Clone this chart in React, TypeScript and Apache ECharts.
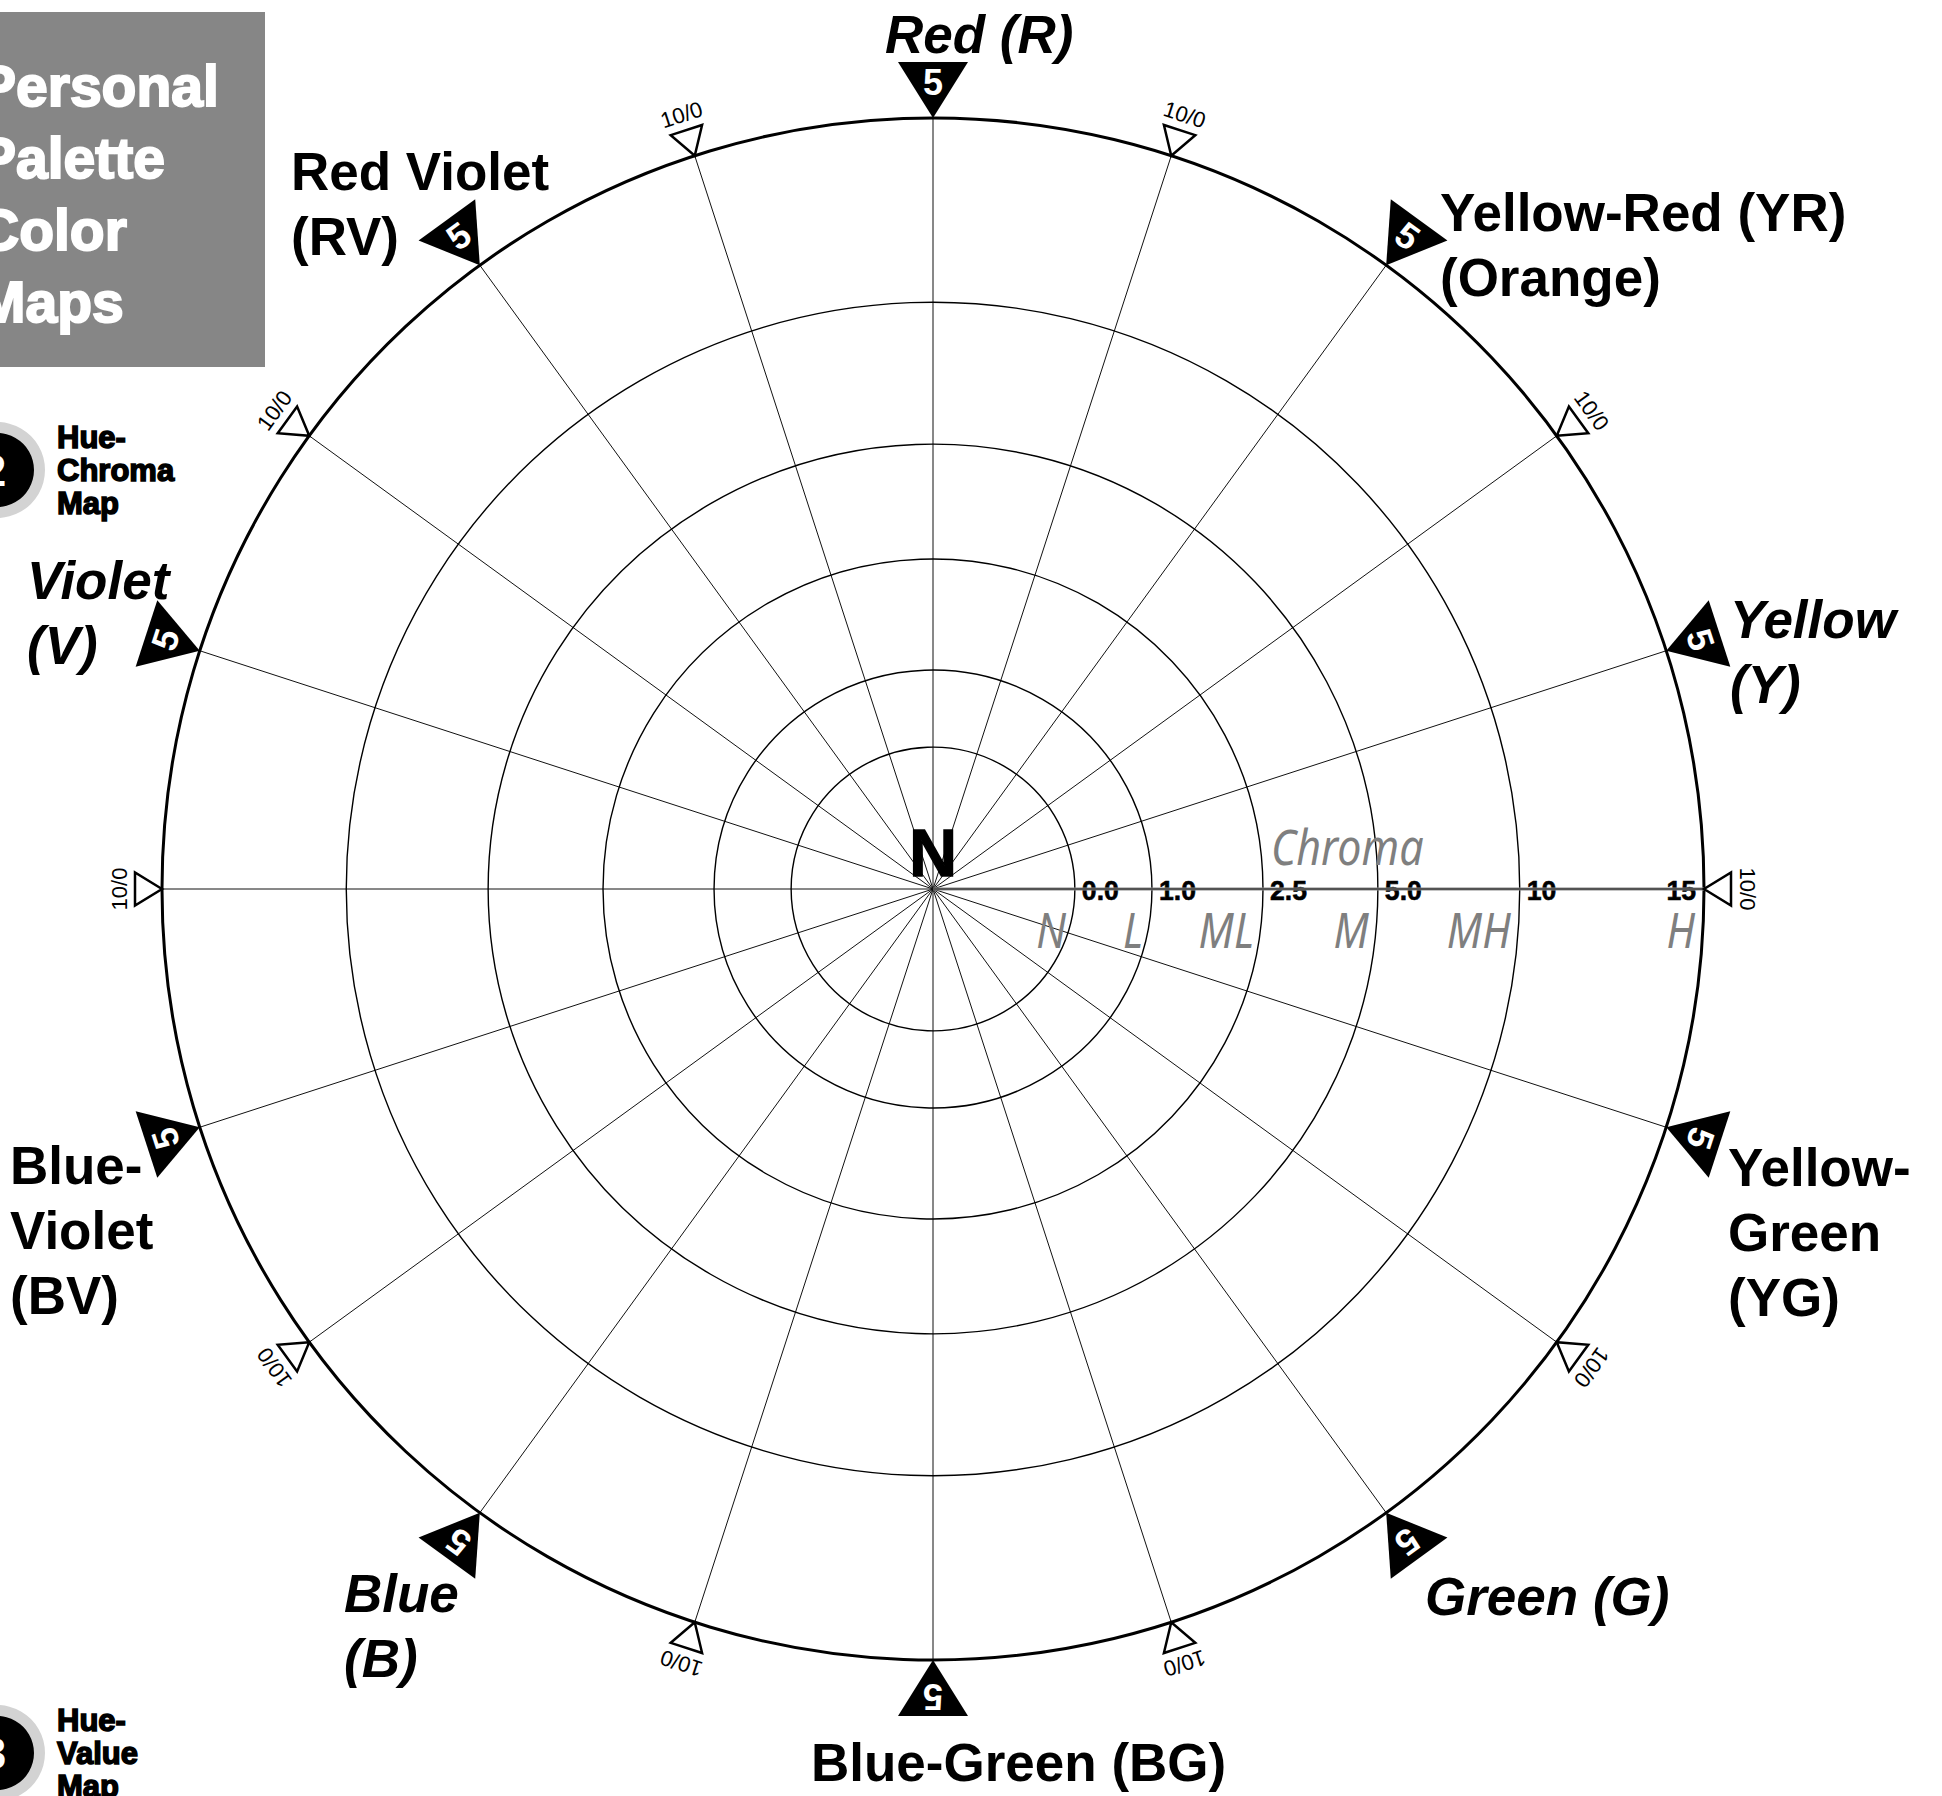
import React, { useEffect, useRef } from 'react';
import * as echarts from 'echarts';

// Hue steps around the Munsell circle, clockwise from the top (Red)
const hueSteps = ['5R', '10R/0YR', '5YR', '10YR/0Y', '5Y', '10Y/0GY', '5GY', '10GY/0G', '5G', '10G/0BG',
  '5BG', '10BG/0B', '5B', '10B/0PB', '5PB', '10PB/0P', '5P', '10P/0RP', '5RP', '10RP/0R'];
const stepMarks = ['5', '10/0', '5', '10/0', '5', '10/0', '5', '10/0', '5', '10/0',
  '5', '10/0', '5', '10/0', '5', '10/0', '5', '10/0', '5', '10/0'];

// Hue names (one per principal / intermediate hue, same order)
const hueNames = ['Red (R)', 'Yellow-Red (YR)\n(Orange)', 'Yellow\n(Y)', 'Yellow-\nGreen\n(YG)', 'Green (G)',
  'Blue-Green (BG)', 'Blue\n(B)', 'Blue-\nViolet\n(BV)', 'Violet\n(V)', 'Red Violet\n(RV)'];
const huePrincipal = [true, false, true, false, true, false, true, false, true, false];

// Chroma rings (radial scale, fraction of the outer circle) and their labels
const ringScale = [0.184, 0.284, 0.428, 0.577, 0.761, 1.0];
const chromaTicks = ['0.0', '1.0', '2.5', '5.0', '10', '15'];
const chromaLevels = ['N', 'L', 'ML', 'M', 'MH', 'H'];

// layout of hue-name labels: [left, middle of first line]
const hueLabelLayout: [number, number][] = [
  [885, 34], [1440, 212], [1730, 619], [1728, 1167], [1425, 1596],
  [811, 1762], [344, 1593], [10, 1165], [27, 580], [291, 171],
];

const SANS = '"Liberation Sans", Arial, sans-serif';
const GRAY_SANS = '"Noto Sans", sans-serif';

export default function App() {
  const ref = useRef<HTMLDivElement>(null);
  useEffect(() => {
    if (!ref.current) return;
    const chart = echarts.init(ref.current, null, { renderer: 'svg' });
    const step = 360 / hueSteps.length;
    const chromaAngle = 90; // chroma scale drawn along the right horizontal spoke

    const graphic: any[] = [
      { type: 'rect', shape: { x: 0, y: 12, width: 265, height: 355 }, style: { fill: '#868686' }, z: 0 },
      {
        type: 'text', x: -22, y: 50,
        style: {
          text: 'Personal\nPalette\nColor\nMaps', fill: '#fff', stroke: '#fff', lineWidth: 2,
          font: `bold 57px ${SANS}`, lineHeight: 72, align: 'left', verticalAlign: 'top',
          textAlign: 'left', textVerticalAlign: 'top',
        },
      },
    ];
    const icons: [string, string, number][] = [['2', 'Hue-\nChroma\nMap', 470], ['3', 'Hue-\nValue\nMap', 1753]];
    icons.forEach(([num, txt, cy]) => {
      graphic.push({ type: 'circle', shape: { cx: -3, cy, r: 48 }, style: { fill: '#d3d3d3' } });
      graphic.push({ type: 'circle', shape: { cx: -3, cy, r: 37 }, style: { fill: '#000' } });
      graphic.push({
        type: 'text', x: -6, y: cy,
        style: { text: num, fill: '#fff', font: `bold 44px ${SANS}`, align: 'center', verticalAlign: 'middle', textAlign: 'center', textVerticalAlign: 'middle' },
      });
      graphic.push({
        type: 'text', x: 57, y: cy - 33 - 16.5,
        style: {
          text: txt, fill: '#000', stroke: '#000', lineWidth: 1.5, font: `bold 31px ${SANS}`, lineHeight: 33,
          align: 'left', verticalAlign: 'top', textAlign: 'left', textVerticalAlign: 'top',
        },
      });
    });
    hueNames.forEach((name, i) => {
      const [x, y] = hueLabelLayout[i];
      graphic.push({
        type: 'text', x, y: y - 32.5,
        style: {
          text: name, fill: '#000', font: `${huePrincipal[i] ? 'italic ' : ''}bold 53px ${SANS}`, lineHeight: 65,
          align: 'left', verticalAlign: 'top', textAlign: 'left', textVerticalAlign: 'top',
        },
      });
    });

    const option: any = {
      animation: false,
      backgroundColor: '#fff',
      polar: { center: [933, 889], radius: 771 },
      angleAxis: {
        type: 'value', min: 0, max: 360, interval: step, startAngle: 90, clockwise: true,
        axisLine: { show: false }, axisTick: { show: false }, axisLabel: { show: false },
        splitLine: { show: true, lineStyle: { color: '#111', width: 1 } },
      },
      radiusAxis: {
        type: 'value', min: 0, max: 1,
        axisLine: { show: false }, axisTick: { show: false }, axisLabel: { show: false }, splitLine: { show: false },
      },
      graphic,
      series: [
        {
          // chroma axis, title and neutral centre
          type: 'custom', coordinateSystem: 'polar', data: [[1, chromaAngle]], z: 3,
          renderItem: (params: any, api: any) => {
            const c = api.coord([0, chromaAngle]);
            const p = api.coord([api.value(0), chromaAngle]);
            const r25 = api.coord([ringScale[2], chromaAngle]);
            return {
              type: 'group',
              children: [
                { type: 'line', shape: { x1: c[0], y1: c[1], x2: p[0], y2: p[1] }, style: { stroke: '#8a8a8a', lineWidth: 3 } },
                { type: 'line', shape: { x1: c[0], y1: c[1], x2: p[0], y2: p[1] }, style: { stroke: '#000', lineWidth: 0.8 } },
                {
                  type: 'text', x: r25[0] + 8, y: c[1] - 43, scaleX: 0.86,
                  style: { text: 'Chroma', fill: '#7f7f7f', font: `italic 50px ${GRAY_SANS}`, align: 'left', verticalAlign: 'middle', textAlign: 'left', textVerticalAlign: 'middle' },
                },
                {
                  type: 'text', x: c[0], y: c[1] - 36,
                  style: { text: 'N', fill: '#000', stroke: '#000', lineWidth: 1.5, font: `bold 66px ${SANS}`, align: 'center', verticalAlign: 'middle', textAlign: 'center', textVerticalAlign: 'middle' },
                },
              ],
            };
          },
        },
        {
          // chroma rings with tick and level labels
          type: 'custom', coordinateSystem: 'polar', data: ringScale.map((r) => [r, chromaAngle]), z: 2,
          renderItem: (params: any, api: any) => {
            const i = params.dataIndex;
            const last = i === ringScale.length - 1;
            const c = api.coord([0, chromaAngle]);
            const p = api.coord([api.value(0), chromaAngle]);
            const r = Math.hypot(p[0] - c[0], p[1] - c[1]);
            return {
              type: 'group',
              children: [
                { type: 'circle', shape: { cx: c[0], cy: c[1], r }, style: { fill: 'none', stroke: '#000', lineWidth: last ? 3 : 1.4 } },
                {
                  type: 'text', x: last ? p[0] - 8 : p[0] + 7, y: c[1] + 1, scaleX: 0.95, z2: 5,
                  style: {
                    text: chromaTicks[i], fill: '#000', stroke: '#000', lineWidth: 0.6, font: `bold 28px ${SANS}`,
                    align: last ? 'right' : 'left', verticalAlign: 'middle', textAlign: last ? 'right' : 'left', textVerticalAlign: 'middle',
                  },
                },
                {
                  type: 'text', x: p[0] - 9, y: c[1] + 40, scaleX: 0.84, z2: 5,
                  style: { text: chromaLevels[i], fill: '#7f7f7f', font: `italic 50px ${GRAY_SANS}`, align: 'right', verticalAlign: 'middle', textAlign: 'right', textVerticalAlign: 'middle' },
                },
              ],
            };
          },
        },
        {
          // hue step markers on the outer circle
          type: 'custom', coordinateSystem: 'polar', data: hueSteps.map((_, i) => [1, i * step]), z: 4,
          renderItem: (params: any, api: any) => {
            const i = params.dataIndex;
            const a = api.value(1);
            const c = api.coord([0, a]);
            const p = api.coord([api.value(0), a]);
            const R = Math.hypot(p[0] - c[0], p[1] - c[1]);
            const ux = (p[0] - c[0]) / R;
            const uy = (p[1] - c[1]) / R;
            const vx = -uy;
            const vy = ux;
            const rot = -Math.atan2(ux, -uy);
            const major = stepMarks[i] === '5';
            const h = major ? 56 : 27;
            const half = major ? 35 : 16.5;
            const bx = p[0] + ux * h;
            const by = p[1] + uy * h;
            const pts = [[p[0], p[1]], [bx + vx * half, by + vy * half], [bx - vx * half, by - vy * half]];
            const td = major ? 36 : 43;
            return {
              type: 'group',
              children: [
                {
                  type: 'polygon', shape: { points: pts },
                  style: major ? { fill: '#000' } : { fill: '#fff', stroke: '#000', lineWidth: 2.5, lineJoin: 'miter' },
                },
                {
                  type: 'text', x: p[0] + ux * td, y: p[1] + uy * td, rotation: rot, z2: 5,
                  style: {
                    text: stepMarks[i], fill: major ? '#fff' : '#000',
                    font: major ? `bold 36px ${SANS}` : `22px ${SANS}`,
                    align: 'center', verticalAlign: 'middle', textAlign: 'center', textVerticalAlign: 'middle',
                  },
                },
              ],
            };
          },
        },
      ],
    };
    chart.setOption(option);
    return () => chart.dispose();
  }, []);
  return <div ref={ref} style={{ position: 'fixed', left: 0, top: 0, width: 1942, height: 1796, background: '#fff' }} />;
}
